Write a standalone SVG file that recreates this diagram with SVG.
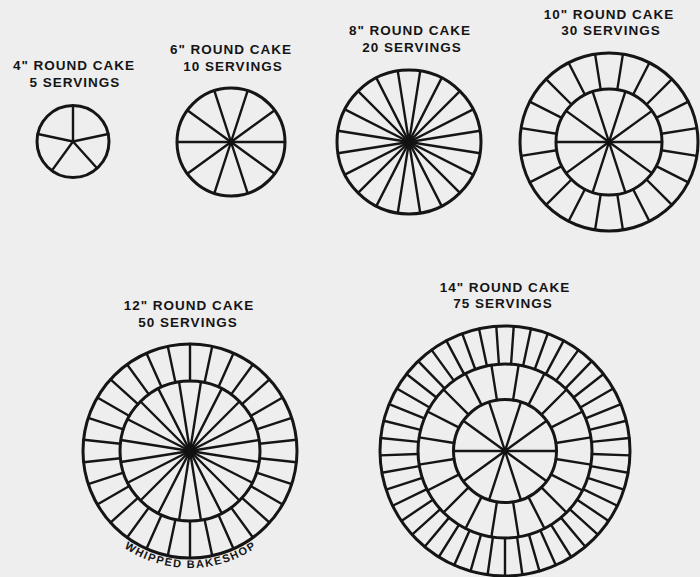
<svg xmlns="http://www.w3.org/2000/svg" width="700" height="577" viewBox="0 0 700 577">
<style>
.bg{fill:#eeeeee}
.lbl{font-family:"Liberation Sans","DejaVu Sans",sans-serif;font-weight:bold;font-size:13.5px;letter-spacing:1px;fill:#151515;text-anchor:middle}
.c{fill:none;stroke:#151515;stroke-width:3}
.s line{stroke:#151515;stroke-width:2.4;stroke-linecap:round}
.dot{fill:#111}
.wm{font-family:"Liberation Sans","DejaVu Sans",sans-serif;font-weight:bold;font-size:11px;fill:#151515}
</style>
<defs>
<path id="arc12" d="M 73 451 A 117 117 0 0 0 307 451"/>
</defs>
<rect class="bg" width="700" height="577"/>

<g id="cake4">
<text class="lbl" x="74" y="70">4" ROUND CAKE</text>
<text class="lbl" x="75" y="87">5 SERVINGS</text>
<g class="s" transform="translate(73,141.5)">
<line x2="36" transform="rotate(-90)"/>
<line x2="36" transform="rotate(-12)"/>
<line x2="36" transform="rotate(48)"/>
<line x2="36" transform="rotate(126)"/>
<line x2="36" transform="rotate(192)"/>
</g>
<circle class="c" cx="73" cy="141.5" r="36"/>
</g>

<g id="cake6">
<text class="lbl" x="231" y="54">6" ROUND CAKE</text>
<text class="lbl" x="233" y="71">10 SERVINGS</text>
<g class="s" transform="translate(231,142)">
<line x2="54" transform="rotate(0)"/>
<line x2="54" transform="rotate(36)"/>
<line x2="54" transform="rotate(72)"/>
<line x2="54" transform="rotate(108)"/>
<line x2="54" transform="rotate(144)"/>
<line x2="54" transform="rotate(180)"/>
<line x2="54" transform="rotate(216)"/>
<line x2="54" transform="rotate(252)"/>
<line x2="54" transform="rotate(288)"/>
<line x2="54" transform="rotate(324)"/>
</g>
<circle class="c" cx="231" cy="142" r="54"/>
<circle class="dot" cx="231" cy="142" r="3"/>
</g>

<g id="cake8">
<text class="lbl" x="410" y="35">8" ROUND CAKE</text>
<text class="lbl" x="412" y="52">20 SERVINGS</text>
<g class="s" transform="translate(409,142)">
<line x2="72" transform="rotate(9)"/>
<line x2="72" transform="rotate(27)"/>
<line x2="72" transform="rotate(45)"/>
<line x2="72" transform="rotate(63)"/>
<line x2="72" transform="rotate(81)"/>
<line x2="72" transform="rotate(99)"/>
<line x2="72" transform="rotate(117)"/>
<line x2="72" transform="rotate(135)"/>
<line x2="72" transform="rotate(153)"/>
<line x2="72" transform="rotate(171)"/>
<line x2="72" transform="rotate(189)"/>
<line x2="72" transform="rotate(207)"/>
<line x2="72" transform="rotate(225)"/>
<line x2="72" transform="rotate(243)"/>
<line x2="72" transform="rotate(261)"/>
<line x2="72" transform="rotate(279)"/>
<line x2="72" transform="rotate(297)"/>
<line x2="72" transform="rotate(315)"/>
<line x2="72" transform="rotate(333)"/>
<line x2="72" transform="rotate(351)"/>
</g>
<circle class="c" cx="409" cy="142" r="72"/>
<circle class="dot" cx="409" cy="142" r="4.5"/>
</g>

<g id="cake10">
<text class="lbl" x="609" y="18.5">10" ROUND CAKE</text>
<text class="lbl" x="611" y="35">30 SERVINGS</text>
<g class="s" transform="translate(609,142)">
<line x2="53" transform="rotate(0)"/>
<line x2="53" transform="rotate(36)"/>
<line x2="53" transform="rotate(72)"/>
<line x2="53" transform="rotate(108)"/>
<line x2="53" transform="rotate(144)"/>
<line x2="53" transform="rotate(180)"/>
<line x2="53" transform="rotate(216)"/>
<line x2="53" transform="rotate(252)"/>
<line x2="53" transform="rotate(288)"/>
<line x2="53" transform="rotate(324)"/>
<line x1="53" x2="89" transform="rotate(9)"/>
<line x1="53" x2="89" transform="rotate(27)"/>
<line x1="53" x2="89" transform="rotate(45)"/>
<line x1="53" x2="89" transform="rotate(63)"/>
<line x1="53" x2="89" transform="rotate(81)"/>
<line x1="53" x2="89" transform="rotate(99)"/>
<line x1="53" x2="89" transform="rotate(117)"/>
<line x1="53" x2="89" transform="rotate(135)"/>
<line x1="53" x2="89" transform="rotate(153)"/>
<line x1="53" x2="89" transform="rotate(171)"/>
<line x1="53" x2="89" transform="rotate(189)"/>
<line x1="53" x2="89" transform="rotate(207)"/>
<line x1="53" x2="89" transform="rotate(225)"/>
<line x1="53" x2="89" transform="rotate(243)"/>
<line x1="53" x2="89" transform="rotate(261)"/>
<line x1="53" x2="89" transform="rotate(279)"/>
<line x1="53" x2="89" transform="rotate(297)"/>
<line x1="53" x2="89" transform="rotate(315)"/>
<line x1="53" x2="89" transform="rotate(333)"/>
<line x1="53" x2="89" transform="rotate(351)"/>
</g>
<circle class="c" cx="609" cy="142" r="53"/>
<circle class="c" cx="609" cy="142" r="89"/>
<circle class="dot" cx="609" cy="142" r="3"/>
</g>

<g id="cake12">
<text class="lbl" x="189" y="310">12" ROUND CAKE</text>
<text class="lbl" x="188" y="327">50 SERVINGS</text>
<g class="s" transform="translate(190,451)">
<line x2="70" transform="rotate(9)"/>
<line x2="70" transform="rotate(27)"/>
<line x2="70" transform="rotate(45)"/>
<line x2="70" transform="rotate(63)"/>
<line x2="70" transform="rotate(81)"/>
<line x2="70" transform="rotate(99)"/>
<line x2="70" transform="rotate(117)"/>
<line x2="70" transform="rotate(135)"/>
<line x2="70" transform="rotate(153)"/>
<line x2="70" transform="rotate(171)"/>
<line x2="70" transform="rotate(189)"/>
<line x2="70" transform="rotate(207)"/>
<line x2="70" transform="rotate(225)"/>
<line x2="70" transform="rotate(243)"/>
<line x2="70" transform="rotate(261)"/>
<line x2="70" transform="rotate(279)"/>
<line x2="70" transform="rotate(297)"/>
<line x2="70" transform="rotate(315)"/>
<line x2="70" transform="rotate(333)"/>
<line x2="70" transform="rotate(351)"/>
<line x1="70" x2="107" transform="rotate(6)"/>
<line x1="70" x2="107" transform="rotate(18)"/>
<line x1="70" x2="107" transform="rotate(30)"/>
<line x1="70" x2="107" transform="rotate(42)"/>
<line x1="70" x2="107" transform="rotate(54)"/>
<line x1="70" x2="107" transform="rotate(66)"/>
<line x1="70" x2="107" transform="rotate(78)"/>
<line x1="70" x2="107" transform="rotate(90)"/>
<line x1="70" x2="107" transform="rotate(102)"/>
<line x1="70" x2="107" transform="rotate(114)"/>
<line x1="70" x2="107" transform="rotate(126)"/>
<line x1="70" x2="107" transform="rotate(138)"/>
<line x1="70" x2="107" transform="rotate(150)"/>
<line x1="70" x2="107" transform="rotate(162)"/>
<line x1="70" x2="107" transform="rotate(174)"/>
<line x1="70" x2="107" transform="rotate(186)"/>
<line x1="70" x2="107" transform="rotate(198)"/>
<line x1="70" x2="107" transform="rotate(210)"/>
<line x1="70" x2="107" transform="rotate(222)"/>
<line x1="70" x2="107" transform="rotate(234)"/>
<line x1="70" x2="107" transform="rotate(246)"/>
<line x1="70" x2="107" transform="rotate(258)"/>
<line x1="70" x2="107" transform="rotate(270)"/>
<line x1="70" x2="107" transform="rotate(282)"/>
<line x1="70" x2="107" transform="rotate(294)"/>
<line x1="70" x2="107" transform="rotate(306)"/>
<line x1="70" x2="107" transform="rotate(318)"/>
<line x1="70" x2="107" transform="rotate(330)"/>
<line x1="70" x2="107" transform="rotate(342)"/>
<line x1="70" x2="107" transform="rotate(354)"/>
</g>
<circle class="c" cx="190" cy="451" r="70"/>
<circle class="c" cx="190" cy="451" r="107"/>
<circle class="dot" cx="190" cy="451" r="5.5"/>
<text class="wm"><textPath href="#arc12" startOffset="50%" text-anchor="middle" textLength="140" lengthAdjust="spacing">WHIPPED BAKESHOP</textPath></text>
</g>

<g id="cake14">
<text class="lbl" x="505" y="292">14" ROUND CAKE</text>
<text class="lbl" x="503" y="308">75 SERVINGS</text>
<g class="s" transform="translate(505,451)">
<line x2="51.5" transform="rotate(0)"/>
<line x2="51.5" transform="rotate(36)"/>
<line x2="51.5" transform="rotate(72)"/>
<line x2="51.5" transform="rotate(108)"/>
<line x2="51.5" transform="rotate(144)"/>
<line x2="51.5" transform="rotate(180)"/>
<line x2="51.5" transform="rotate(216)"/>
<line x2="51.5" transform="rotate(252)"/>
<line x2="51.5" transform="rotate(288)"/>
<line x2="51.5" transform="rotate(324)"/>
<line x1="51.5" x2="87" transform="rotate(9)"/>
<line x1="51.5" x2="87" transform="rotate(27)"/>
<line x1="51.5" x2="87" transform="rotate(45)"/>
<line x1="51.5" x2="87" transform="rotate(63)"/>
<line x1="51.5" x2="87" transform="rotate(81)"/>
<line x1="51.5" x2="87" transform="rotate(99)"/>
<line x1="51.5" x2="87" transform="rotate(117)"/>
<line x1="51.5" x2="87" transform="rotate(135)"/>
<line x1="51.5" x2="87" transform="rotate(153)"/>
<line x1="51.5" x2="87" transform="rotate(171)"/>
<line x1="51.5" x2="87" transform="rotate(189)"/>
<line x1="51.5" x2="87" transform="rotate(207)"/>
<line x1="51.5" x2="87" transform="rotate(225)"/>
<line x1="51.5" x2="87" transform="rotate(243)"/>
<line x1="51.5" x2="87" transform="rotate(261)"/>
<line x1="51.5" x2="87" transform="rotate(279)"/>
<line x1="51.5" x2="87" transform="rotate(297)"/>
<line x1="51.5" x2="87" transform="rotate(315)"/>
<line x1="51.5" x2="87" transform="rotate(333)"/>
<line x1="51.5" x2="87" transform="rotate(351)"/>
<line x1="87" x2="125" transform="rotate(2)"/>
<line x1="87" x2="125" transform="rotate(10)"/>
<line x1="87" x2="125" transform="rotate(18)"/>
<line x1="87" x2="125" transform="rotate(26)"/>
<line x1="87" x2="125" transform="rotate(34)"/>
<line x1="87" x2="125" transform="rotate(42)"/>
<line x1="87" x2="125" transform="rotate(50)"/>
<line x1="87" x2="125" transform="rotate(58)"/>
<line x1="87" x2="125" transform="rotate(66)"/>
<line x1="87" x2="125" transform="rotate(74)"/>
<line x1="87" x2="125" transform="rotate(82)"/>
<line x1="87" x2="125" transform="rotate(90)"/>
<line x1="87" x2="125" transform="rotate(98)"/>
<line x1="87" x2="125" transform="rotate(106)"/>
<line x1="87" x2="125" transform="rotate(114)"/>
<line x1="87" x2="125" transform="rotate(122)"/>
<line x1="87" x2="125" transform="rotate(130)"/>
<line x1="87" x2="125" transform="rotate(138)"/>
<line x1="87" x2="125" transform="rotate(146)"/>
<line x1="87" x2="125" transform="rotate(154)"/>
<line x1="87" x2="125" transform="rotate(162)"/>
<line x1="87" x2="125" transform="rotate(170)"/>
<line x1="87" x2="125" transform="rotate(178)"/>
<line x1="87" x2="125" transform="rotate(186)"/>
<line x1="87" x2="125" transform="rotate(194)"/>
<line x1="87" x2="125" transform="rotate(202)"/>
<line x1="87" x2="125" transform="rotate(210)"/>
<line x1="87" x2="125" transform="rotate(218)"/>
<line x1="87" x2="125" transform="rotate(226)"/>
<line x1="87" x2="125" transform="rotate(234)"/>
<line x1="87" x2="125" transform="rotate(242)"/>
<line x1="87" x2="125" transform="rotate(250)"/>
<line x1="87" x2="125" transform="rotate(258)"/>
<line x1="87" x2="125" transform="rotate(266)"/>
<line x1="87" x2="125" transform="rotate(274)"/>
<line x1="87" x2="125" transform="rotate(282)"/>
<line x1="87" x2="125" transform="rotate(290)"/>
<line x1="87" x2="125" transform="rotate(298)"/>
<line x1="87" x2="125" transform="rotate(306)"/>
<line x1="87" x2="125" transform="rotate(314)"/>
<line x1="87" x2="125" transform="rotate(322)"/>
<line x1="87" x2="125" transform="rotate(330)"/>
<line x1="87" x2="125" transform="rotate(338)"/>
<line x1="87" x2="125" transform="rotate(346)"/>
<line x1="87" x2="125" transform="rotate(354)"/>
</g>
<circle class="c" cx="505" cy="451" r="51.5"/>
<circle class="c" cx="505" cy="451" r="87"/>
<circle class="c" cx="505" cy="451" r="125"/>
<circle class="dot" cx="505" cy="451" r="3"/>
</g>
</svg>
